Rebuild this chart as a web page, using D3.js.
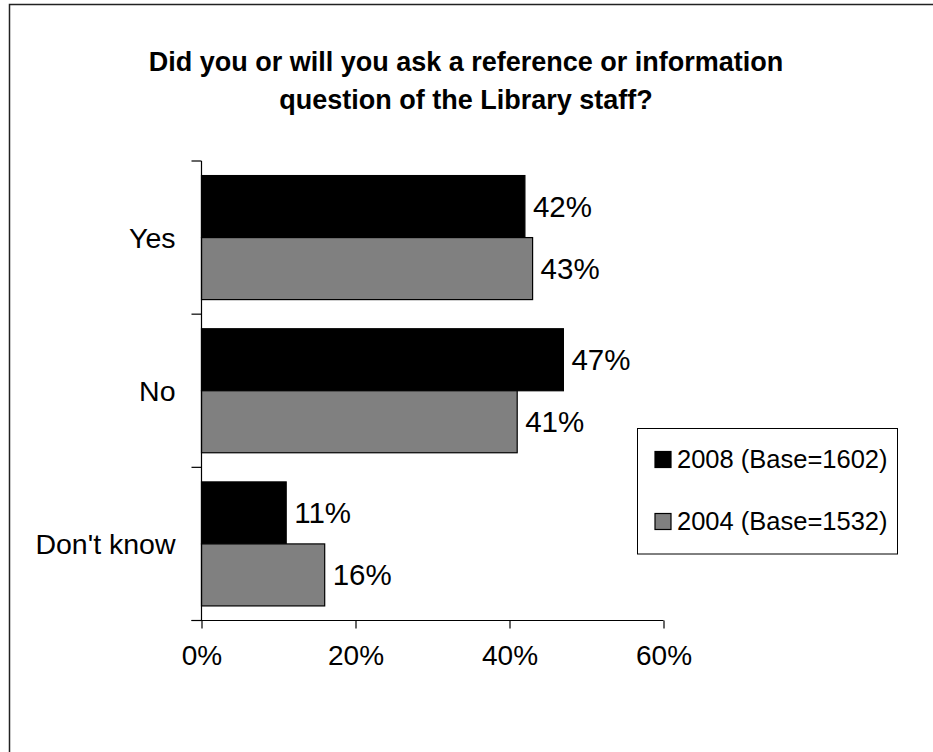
<!DOCTYPE html>
<html>
<head>
<meta charset="utf-8">
<script src="https://cdn.jsdelivr.net/npm/d3@7"></script>
<style>
  html, body { margin: 0; padding: 0; background: #fff; }
  svg { display: block; font-family: "Liberation Sans", Arial, sans-serif; }
</style>
</head>
<body>
<svg id="chart" width="933" height="752"></svg>
<script>
// Survey answers and the two survey waves
const categories = ["Yes", "No", "Don't know"];
const seriesNames = ["2008 (Base=1602)", "2004 (Base=1532)"];
const values2008 = [42, 47, 11];
const values2004 = [43, 41, 16];
const tickValues = [0, 20, 40, 60];
const titleLines = ["Did you or will you ask a reference or information", "question of the Library staff?"];
const seriesColors = ["#000000", "#808080"];

const svg = d3.select("#chart");

// Outer frame (left and top edges visible)
svg.append("rect")
  .attr("x", 9.5).attr("y", 4.5)
  .attr("width", 1000).attr("height", 1000)
  .attr("fill", "none").attr("stroke", "#222").attr("stroke-width", 1.5);

// Title
svg.append("g").selectAll("text").data(titleLines).join("text")
  .attr("x", 466).attr("y", (d, i) => 71 + i * 38)
  .attr("text-anchor", "middle")
  .attr("font-weight", "bold").attr("font-size", 27)
  .attr("fill", "#000")
  .text(d => d);

const plot = { left: 201.5, top: 161, right: 663.5, bottom: 620.5 };

const x = d3.scaleLinear().domain([0, 60]).range([plot.left, plot.right]);
const y = d3.scaleBand().domain(categories).range([plot.top, plot.bottom]).paddingInner(0).paddingOuter(0);
const sub = d3.scaleBand().domain([0, 1]).range([0, y.bandwidth()]).paddingInner(0).paddingOuter(0.235);

const rows = categories.map((c, i) => ({ cat: c, vals: [values2008[i], values2004[i]] }));

// Bars
const groups = svg.append("g").selectAll("g").data(rows).join("g")
  .attr("transform", d => `translate(0,${y(d.cat)})`);

groups.selectAll("rect").data(d => d.vals.map((v, s) => ({ v, s }))).join("rect")
  .attr("x", x(0))
  .attr("y", d => sub(d.s))
  .attr("width", d => x(d.v) - x(0))
  .attr("height", sub.bandwidth())
  .attr("fill", d => seriesColors[d.s])
  .attr("stroke", "#000").attr("stroke-width", 1.2);

// Value labels
groups.selectAll("text").data(d => d.vals.map((v, s) => ({ v, s }))).join("text")
  .attr("x", d => x(d.v) + 8)
  .attr("y", d => sub(d.s) + sub.bandwidth() / 2)
  .attr("dy", "0.35em")
  .attr("font-size", 29.5)
  .attr("fill", "#000")
  .text(d => d.v + "%");

// X axis
const xAxis = svg.append("g")
  .attr("transform", `translate(0,${plot.bottom})`)
  .call(d3.axisBottom(x).tickValues(tickValues).tickFormat(d => d + "%").tickSize(8).tickSizeOuter(0).tickPadding(17));
xAxis.select(".domain").attr("stroke", "#000").attr("stroke-width", 1.2)
  .attr("d", `M${plot.left - 10},0H${plot.right}`);
xAxis.selectAll(".tick line").attr("stroke", "#000").attr("stroke-width", 1.2);
xAxis.selectAll(".tick text").attr("font-size", 28).attr("fill", "#000")
  .attr("font-family", "'Liberation Sans', Arial, sans-serif");

// Y axis with ticks at category boundaries
const yAxisG = svg.append("g").attr("transform", `translate(${plot.left},0)`);
yAxisG.append("line")
  .attr("x1", 0).attr("x2", 0).attr("y1", plot.top).attr("y2", plot.bottom)
  .attr("stroke", "#000").attr("stroke-width", 1.2);
const boundaries = categories.map(c => y(c)).concat([plot.bottom]);
yAxisG.selectAll("line.tk").data(boundaries).join("line").attr("class", "tk")
  .attr("x1", -10).attr("x2", 0).attr("y1", d => d).attr("y2", d => d)
  .attr("stroke", "#000").attr("stroke-width", 1.2);
yAxisG.selectAll("text").data(categories).join("text")
  .attr("x", -26)
  .attr("y", d => y(d) + y.bandwidth() / 2)
  .attr("dy", "0.35em")
  .attr("text-anchor", "end")
  .attr("font-size", 28.5)
  .attr("fill", "#000")
  .text(d => d);

// Legend
const legend = svg.append("g");
legend.append("rect")
  .attr("x", 637.5).attr("y", 428.5).attr("width", 260).attr("height", 125.5)
  .attr("fill", "#fff").attr("stroke", "#000").attr("stroke-width", 1);
const items = legend.selectAll("g").data(seriesNames).join("g")
  .attr("transform", (d, i) => `translate(655,${459.5 + i * 62})`);
items.append("rect")
  .attr("x", 0).attr("y", -8).attr("width", 16).attr("height", 16)
  .attr("fill", (d, i) => seriesColors[i]).attr("stroke", "#000").attr("stroke-width", 1.2);
items.append("text")
  .attr("x", 22).attr("y", 0).attr("dy", "0.35em")
  .attr("font-size", 25.5).attr("fill", "#000")
  .text(d => d);
</script>
</body>
</html>
